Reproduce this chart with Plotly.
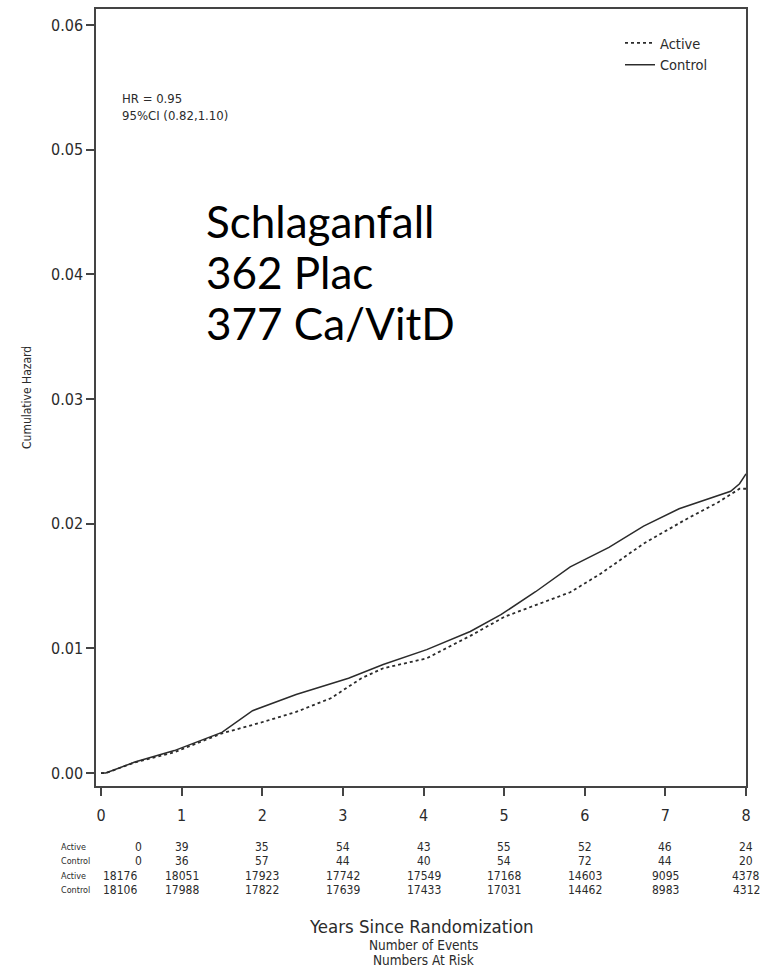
import plotly.graph_objects as go

# ---------------- data ----------------
years_control = [0.0, 0.06, 0.42, 0.91, 1.50, 1.88, 2.42, 3.07, 3.50, 4.04, 4.58, 4.96,
                 5.39, 5.82, 6.30, 6.73, 7.17, 7.54, 7.81, 7.92, 8.0]
hazard_control = [0.0, 0.0, 0.00088, 0.0018, 0.00326, 0.0050, 0.0063, 0.0076, 0.0087, 0.0099,
                  0.01135, 0.0127, 0.01454, 0.01653, 0.0181, 0.0198, 0.0212, 0.0220, 0.0226,
                  0.0232, 0.0240]

years_active = [0.0, 0.06, 0.42, 0.91, 1.50, 1.99, 2.42, 2.85, 3.23, 3.50, 4.04, 4.58, 5.01,
                5.39, 5.82, 6.20, 6.73, 7.27, 7.65, 7.92, 8.0]
hazard_active = [0.0, 0.0, 0.00085, 0.00167, 0.00318, 0.00406, 0.0049, 0.0060, 0.0076, 0.0084,
                 0.0092, 0.0110, 0.01255, 0.01347, 0.0145, 0.0160, 0.0184, 0.0204, 0.0217,
                 0.0228, 0.0228]

x_ticks = [0, 1, 2, 3, 4, 5, 6, 7, 8]
y_ticks = [0.00, 0.01, 0.02, 0.03, 0.04, 0.05, 0.06]

events_active = [0, 39, 35, 54, 43, 55, 52, 46, 24]
events_control = [0, 36, 57, 44, 40, 54, 72, 44, 20]
risk_active = [18176, 18051, 17923, 17742, 17549, 17168, 14603, 9095, 4378]
risk_control = [18106, 17988, 17822, 17639, 17433, 17031, 14462, 8983, 4312]
row_labels = ["Active", "Control", "Active", "Control"]

hr_text = ["HR = 0.95", "95%CI (0.82,1.10)"]
big_text = ["Schlaganfall", "362 Plac", "377 Ca/VitD"]
x_title = "Years Since Randomization"
sub_titles = ["Number of Events", "Numbers At Risk"]
y_title = "Cumulative Hazard"

# ---------------- layout helpers ----------------
W, H = 768, 970
L, R, T, B = 96, 22, 7, 184
PW, PH = W - L - R, H - T - B


def px_x(px):
    return (px - L) / PW


def px_y(py):
    return (T + PH - py) / PH


NARROW = "Liberation Sans Narrow, Arial Narrow, DejaVu Sans Condensed, sans-serif"
INK = "#2b2b2b"

fig = go.Figure()
fig.add_trace(go.Scatter(x=years_active, y=hazard_active, mode="lines", name="Active",
                         line=dict(color=INK, width=1.8, dash="dot")))
fig.add_trace(go.Scatter(x=years_control, y=hazard_control, mode="lines", name="Control",
                         line=dict(color=INK, width=1.5)))

ann = []
# HR text
for txt, py in zip(hr_text, [97, 114]):
    ann.append(dict(x=px_x(120), y=px_y(py), xref="paper", yref="paper", text=txt,
                    showarrow=False, xanchor="left", yanchor="middle",
                    font=dict(family=NARROW, size=13, color=INK)))
# big overlay text
for txt, py in zip(big_text, [220, 271, 322]):
    ann.append(dict(x=px_x(204), y=px_y(py), xref="paper", yref="paper", text=txt,
                    showarrow=False, xanchor="left", yanchor="middle",
                    font=dict(family="Lato, Carlito, Calibri, sans-serif", size=44, color="#000")))
# y title
ann.append(dict(x=px_x(27), y=px_y(397), xref="paper", yref="paper", text=y_title,
                showarrow=False, textangle=-90, xanchor="center", yanchor="middle",
                font=dict(family=NARROW, size=12, color=INK)))
# x titles
ann.append(dict(x=px_x(421), y=px_y(927), xref="paper", yref="paper", text=x_title,
                showarrow=False, xanchor="center", yanchor="middle",
                font=dict(family=NARROW, size=18.5, color=INK)))
for txt, py in zip(sub_titles, [945, 960]):
    ann.append(dict(x=px_x(423), y=px_y(py), xref="paper", yref="paper", text=txt,
                    showarrow=False, xanchor="center", yanchor="middle",
                    font=dict(family=NARROW, size=13.5, color=INK)))
# table
row_y = [847, 861, 876, 890]
rows = [events_active, events_control, risk_active, risk_control]
for lab, py in zip(row_labels, row_y):
    ann.append(dict(x=px_x(59), y=px_y(py), xref="paper", yref="paper", text=lab,
                    showarrow=False, xanchor="left", yanchor="middle",
                    font=dict(family=NARROW, size=9, color=INK)))
for r, (vals, py) in enumerate(zip(rows, row_y)):
    for i, (t, v) in enumerate(zip(x_ticks, vals)):
        xpos = t
        if i == 0:
            xpos = 0.46 if r < 2 else 0.24
        ann.append(dict(x=xpos, y=px_y(py), xref="x", yref="paper", text=str(v),
                        showarrow=False, xanchor="center", yanchor="middle",
                        font=dict(family=NARROW, size=12, color=INK)))

fig.update_layout(
    width=W, height=H, autosize=False,
    margin=dict(l=L, r=R, t=T, b=B, pad=0),
    paper_bgcolor="white", plot_bgcolor="white",
    showlegend=True,
    legend=dict(x=px_x(620), y=px_y(25), xanchor="left", yanchor="top",
                bgcolor="rgba(0,0,0,0)", font=dict(family=NARROW, size=14.5, color=INK),
                tracegroupgap=0, itemwidth=30),
    annotations=ann,
    xaxis=dict(range=[-0.062, 8.0], tickvals=x_ticks, ticktext=[str(v) for v in x_ticks],
               showgrid=False, zeroline=False, showline=True, mirror=True,
               linecolor="#444", linewidth=1.5, ticks="outside", ticklen=8, tickwidth=1.5,
               tickcolor="#444", ticklabelstandoff=6,
               tickfont=dict(family=NARROW, size=16, color=INK)),
    yaxis=dict(range=[-0.00104, 0.06128], tickvals=y_ticks, tickformat=".2f",
               showgrid=False, zeroline=False, showline=True, mirror=True,
               linecolor="#444", linewidth=1.5, ticks="outside", ticklen=8, tickwidth=1.5,
               tickcolor="#444",
               tickfont=dict(family=NARROW, size=16, color=INK)),
)

fig.write_html("out.html", config={"displayModeBar": False},
               post_script="document.body.style.margin='0';document.body.style.padding='0';")
